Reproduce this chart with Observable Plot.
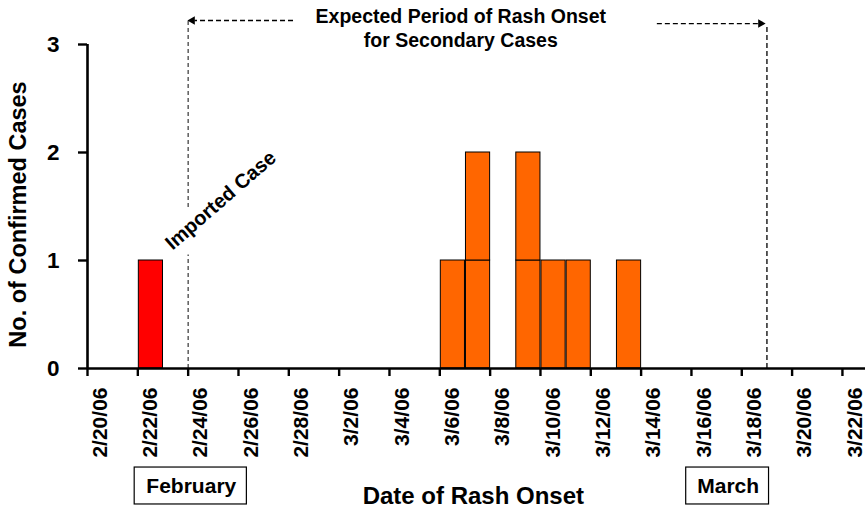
<!DOCTYPE html>
<html>
<head>
<meta charset="utf-8">
<script src="https://cdn.jsdelivr.net/npm/d3@7"></script>
<script src="https://cdn.jsdelivr.net/npm/@observablehq/plot@0.6"></script>
<style>
  html, body { margin: 0; padding: 0; background: #fff; }
</style>
</head>
<body>
<div id="chart"></div>
<script>
// ---- data ----
const onsetDates = ["2006-02-22", "2006-03-06", "2006-03-07", "2006-03-09", "2006-03-10", "2006-03-11", "2006-03-13"];
const caseCounts = [1, 1, 2, 2, 1, 1, 1];
const caseTypes  = ["Imported", "Secondary", "Secondary", "Secondary", "Secondary", "Secondary", "Secondary"];
const typeColors = {Imported: "#FF0000", Secondary: "#FF6600"};

const tickLabels = ["2/20/06", "2/22/06", "2/24/06", "2/26/06", "2/28/06", "3/2/06", "3/4/06", "3/6/06",
                    "3/8/06", "3/10/06", "3/12/06", "3/14/06", "3/16/06", "3/18/06", "3/20/06", "3/22/06"];
const yTicks = [0, 1, 2, 3];

const yLabel = "No. of Confirmed Cases";
const xLabel = "Date of Rash Onset";
const periodTitle = "Expected Period of Rash Onset\nfor Secondary Cases";
const importedLabel = "Imported Case";
const monthLabels = ["February", "March"];

// ---- helpers ----
const at = (m, d, h = 0) => new Date(Date.UTC(2006, m - 1, d, h));
const parse = s => { const [y, m, d] = s.split("-").map(Number); return new Date(Date.UTC(y, m - 1, d)); };
const tickDates = tickLabels.map(s => { const [m, d] = s.split("/").map(Number); return at(m, d); });
const labelDates = tickDates.map(d => d3.utcHour.offset(d, 12));

// one rectangle per case (stacked)
const cases = [];
onsetDates.forEach((s, i) => {
  for (let k = 0; k < caseCounts[i]; k++) cases.push({date: parse(s), type: caseTypes[i]});
});

const xStart = at(2, 20), xEnd = at(3, 22, 22);
const periodStart = at(2, 24), periodEnd = at(3, 19);

const font = "'Liberation Sans', Arial, Helvetica, sans-serif";

const chart = Plot.plot({
  width: 866,
  height: 507,
  marginLeft: 87,
  marginRight: 1,
  marginTop: 44,
  marginBottom: 139,
  style: {fontFamily: font, fontWeight: "bold", fontSize: "20px", background: "#fff", color: "#000", overflow: "visible"},
  x: {type: "utc", domain: [xStart, xEnd]},
  y: {domain: [0, 3]},
  marks: [
    // expected period lines
    Plot.ruleX([periodStart], {y1: 0, y2: 1.05, stroke: "#444", strokeWidth: 1.3, strokeDasharray: "4,3"}),
    Plot.ruleX([periodStart], {y1: 1.49, y2: 3.222, stroke: "#444", strokeWidth: 1.3, strokeDasharray: "4,3"}),
    Plot.ruleX([periodEnd], {y1: 0, y2: 3.176, stroke: "#000", strokeWidth: 1.3, strokeDasharray: "5,3"}),
    // arrows
    Plot.link([{a: at(2, 28, 4), b: at(2, 24, 6), y: 3.222}], {x1: "a", x2: "b", y1: "y", y2: "y", stroke: "#000", strokeWidth: 1.3, strokeDasharray: "5,3"}),
    Plot.link([{a: at(3, 14, 15), b: at(3, 18, 16), y: 3.194}], {x1: "a", x2: "b", y1: "y", y2: "y", stroke: "#000", strokeWidth: 1.3, strokeDasharray: "5,3"}),
    Plot.dot([{x: at(2, 24, 4), y: 3.222, r: -90}, {x: at(3, 18, 18), y: 3.194, r: 90}],
      {x: "x", y: "y", rotate: "r", symbol: "triangle", r: 3.2, fill: "#000", stroke: "none"}),
    // bars
    Plot.rectY(cases, {x: "date", y: 1, interval: d3.utcDay, fill: d => typeColors[d.type], stroke: "#000", strokeWidth: 1}),
    // axes
    Plot.ruleY([0], {strokeWidth: 2.6}),
    Plot.ruleX([xStart], {strokeWidth: 2.6}),
    Plot.axisX({ticks: tickDates, tickSize: 8, tickFormat: () => "", strokeWidth: 2.4, label: null}),
    Plot.axisX({ticks: labelDates, tickSize: 0, tickPadding: 19, tickRotate: -90, label: null,
      tickFormat: d => tickLabels[labelDates.findIndex(t => +t === +d)],
      fontSize: 21, fontWeight: "bold", fill: "#000"}),
    Plot.axisY({ticks: yTicks, tickSize: 9, tickPadding: 19, strokeWidth: 2.4, label: null,
      tickFormat: d3.format("d"), fontSize: 22.5, fontWeight: "bold", fill: "#000"}),
    // titles
    Plot.text([yLabel], {x: at(2, 17, 6), y: 1.426, rotate: -90, fontSize: 23.5, fontWeight: "bold", fill: "#000"}),
    Plot.text([xLabel], {x: at(3, 7, 8), y: -1.18, fontSize: 24, fontWeight: "bold", fill: "#000"}),
    Plot.text([periodTitle], {x: at(3, 6, 20), y: 3.35, lineAnchor: "top", lineHeight: 1.2, fontSize: 19.5, fontWeight: "bold", fill: "#000"}),
    Plot.text([importedLabel], {x: at(2, 25, 7), y: 1.556, rotate: -41, fontSize: 20, fontWeight: "bold", fill: "#000"}),
    // month boxes
    Plot.rect([{x1: at(2, 21, 21), x2: at(2, 26, 8)}, {x1: at(3, 15, 19), x2: at(3, 19, 2)}],
      {x1: "x1", x2: "x2", y1: -0.917, y2: -1.259, fill: "none", stroke: "#000", strokeWidth: 1.2}),
    Plot.text([{x: at(2, 24, 3), t: monthLabels[0]}, {x: at(3, 17, 11), t: monthLabels[1]}],
      {x: "x", y: -1.09, text: "t", fontSize: 21, fontWeight: "bold", fill: "#000"})
  ]
});
document.getElementById("chart").appendChild(chart);
</script>
</body>
</html>
